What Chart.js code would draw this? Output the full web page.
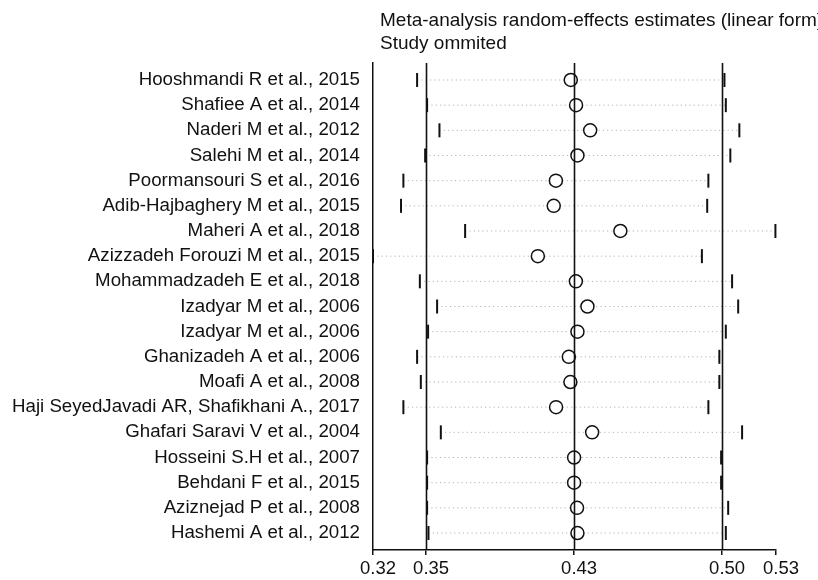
<!DOCTYPE html>
<html>
<head>
<meta charset="utf-8">
<script src="https://cdn.jsdelivr.net/npm/chart.js@4.4.0/dist/chart.umd.min.js"></script>
<style>
  html, body { margin: 0; padding: 0; background: #fff; }
</style>
</head>
<body>
<canvas id="chart" width="818" height="580"></canvas>
<script>
let studies = [
    'Hooshmandi R et al., 2015',
    'Shafiee A et al., 2014',
    'Naderi M et al., 2012',
    'Salehi M et al., 2014',
    'Poormansouri S et al., 2016',
    'Adib-Hajbaghery M et al., 2015',
    'Maheri A et al., 2018',
    'Azizzadeh Forouzi M et al., 2015',
    'Mohammadzadeh E et al., 2018',
    'Izadyar M et al., 2006',
    'Izadyar M et al., 2006',
    'Ghanizadeh A et al., 2006',
    'Moafi A et al., 2008',
    'Haji SeyedJavadi AR, Shafikhani A., 2017',
    'Ghafari Saravi V et al., 2004',
    'Hosseini S.H et al., 2007',
    'Behdani F et al., 2015',
    'Aziznejad P et al., 2008',
    'Hashemi A et al., 2012'
];

// estimate with the study left out, and its CI
let estimates = [0.4243, 0.4270, 0.4342, 0.4277, 0.4167, 0.4156, 0.4496, 0.4075, 0.4269, 0.4328,
                 0.4277, 0.4233, 0.4241, 0.4168, 0.4352, 0.4260, 0.4260, 0.4275, 0.4277];
let lowers =    [0.3459, 0.3510, 0.3573, 0.3500, 0.3389, 0.3377, 0.3704, 0.3234, 0.3473, 0.3561,
                 0.3515, 0.3459, 0.3478, 0.3389, 0.3580, 0.3510, 0.3510, 0.3510, 0.3517];
let uppers =    [0.5027, 0.5034, 0.5103, 0.5057, 0.4945, 0.4939, 0.5287, 0.4912, 0.5066, 0.5097,
                 0.5034, 0.5001, 0.5001, 0.4945, 0.5117, 0.5010, 0.5010, 0.5046, 0.5034];

// min lower, overall lower, overall estimate, overall upper, max upper
let tickValues = [0.3234, 0.3505, 0.426, 0.5015, 0.529];
let overallLines = [0.3505, 0.426, 0.5015];
let titleLines = ['Meta-analysis random-effects estimates (linear form)', 'Study ommited'];

const FONT = 'Arial, "Liberation Sans", sans-serif';

let refLines = {
    id: 'refLines',
    afterDatasetsDraw(chart) {
        let ctx = chart.ctx;
        let area = chart.chartArea;
        let x = chart.scales.x;
        ctx.save();
        ctx.strokeStyle = '#111';
        ctx.lineWidth = 1.6;
        overallLines.forEach(v => {
            let px = Math.round(x.getPixelForValue(v)) + 0.5;
            ctx.beginPath();
            ctx.moveTo(px, area.top);
            ctx.lineTo(px, area.bottom);
            ctx.stroke();
        });
        ctx.restore();
    },
    afterDraw(chart) {
        let ctx = chart.ctx;
        ctx.save();
        ctx.fillStyle = '#111';
        ctx.font = '19px ' + FONT;
        ctx.textAlign = 'left';
        ctx.textBaseline = 'alphabetic';
        ctx.fillText(titleLines[0], chart.chartArea.left + 7, 26);
        ctx.fillText(titleLines[1], chart.chartArea.left + 7, 49);
        ctx.restore();
    }
};

let createChart = function () {
    let ciSets = studies.map((s, i) => ({
        data: [{x: lowers[i], y: i}, {x: uppers[i], y: i}],
        showLine: true,
        borderColor: '#b4b4b4',
        borderWidth: 1,
        borderDash: [1.2, 3.1],
        pointStyle: 'line',
        pointRotation: 90,
        pointRadius: 7,
        pointBorderColor: '#111',
        pointBorderWidth: 2,
        clip: false
    }));

    let estSet = {
        data: studies.map((s, i) => ({x: estimates[i], y: i})),
        pointStyle: 'circle',
        pointRadius: 6.5,
        pointBorderColor: '#111',
        pointBorderWidth: 1.5,
        pointBackgroundColor: '#fff',
        clip: false
    };

    const ctx = document.getElementById('chart');

    new Chart(ctx, {
        type: 'scatter',
        data: {
            datasets: [estSet].concat(ciSets)
        },
        options: {
            responsive: false,
            animation: false,
            layout: {
                padding: { top: 63, right: 42, bottom: 0, left: 0 }
            },
            plugins: {
                legend: { display: false },
                tooltip: { enabled: false }
            },
            scales: {
                x: {
                    type: 'linear',
                    min: tickValues[0],
                    max: tickValues[tickValues.length - 1],
                    afterBuildTicks: scale => {
                        scale.ticks = tickValues.map(v => ({ value: v }));
                    },
                    afterFit: scale => { scale.height = 30; },
                    grid: {
                        drawOnChartArea: false,
                        drawTicks: true,
                        tickLength: 5,
                        color: '#111',
                        lineWidth: 1.5
                    },
                    border: { display: true, color: '#111', width: 1.5 },
                    ticks: {
                        autoSkip: false,
                        maxRotation: 0,
                        padding: 3,
                        labelOffset: 5,
                        color: '#111',
                        font: { family: FONT, size: 18.5 },
                        callback: v => v.toFixed(2)
                    }
                },
                y: {
                    type: 'linear',
                    reverse: true,
                    min: -0.675,
                    max: studies.length - 1 + 0.675,
                    afterBuildTicks: scale => {
                        scale.ticks = studies.map((s, i) => ({ value: i }));
                    },
                    afterFit: scale => { scale.width = 373; },
                    grid: { display: false, drawTicks: false },
                    border: { display: true, color: '#111', width: 1.5 },
                    ticks: {
                        autoSkip: false,
                        padding: 13,
                        color: '#111',
                        font: { family: FONT, size: 18.7 },
                        callback: v => studies[v]
                    }
                }
            }
        },
        plugins: [refLines]
    });
}

createChart();
</script>
</body>
</html>
